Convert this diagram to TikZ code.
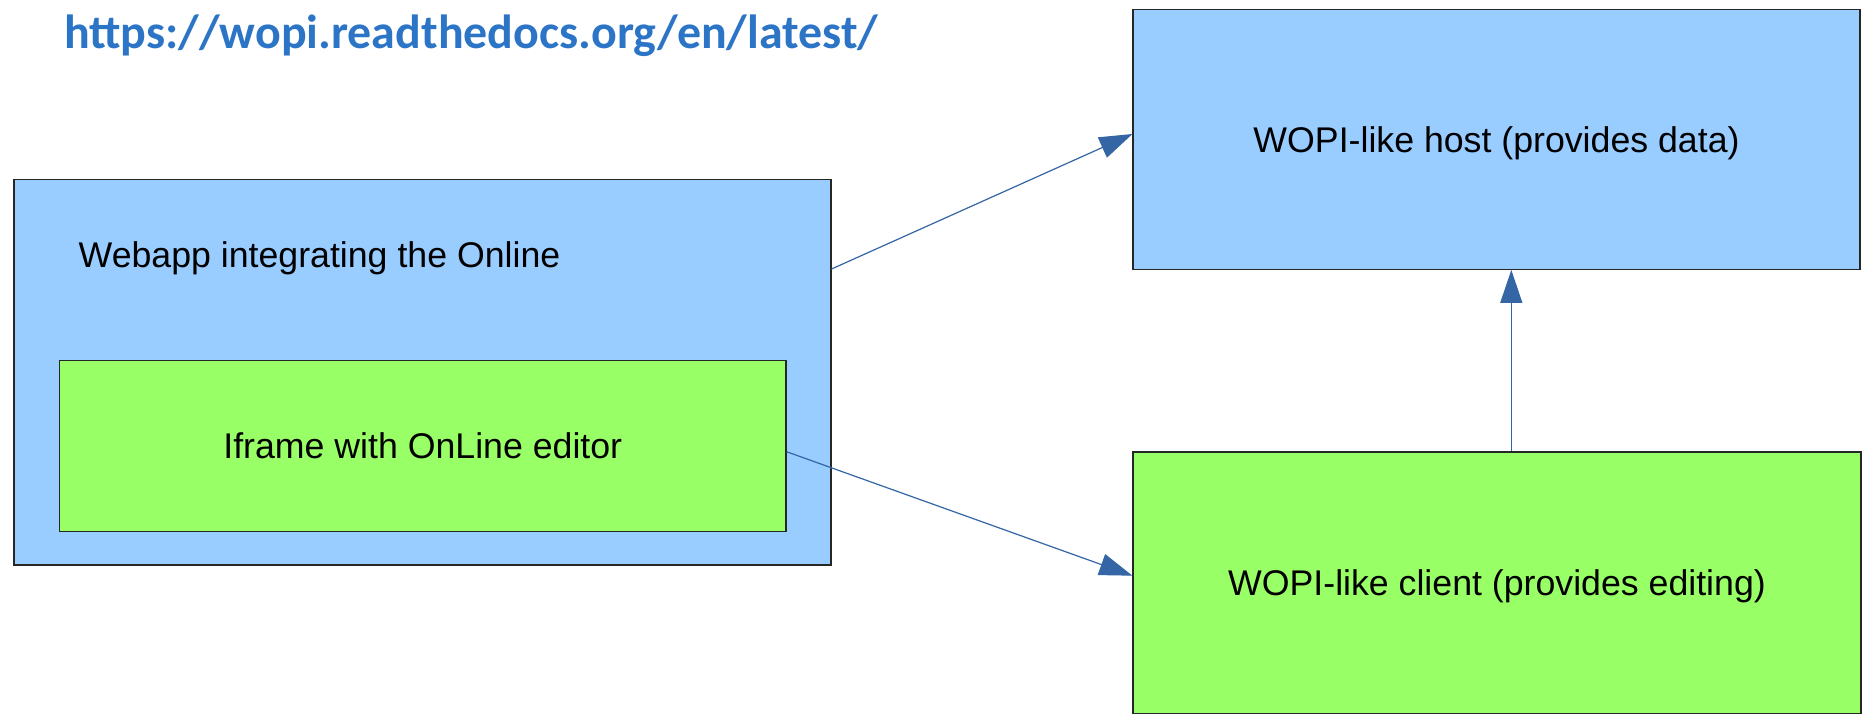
\documentclass[tikz,border=0pt]{standalone}
\usepackage{fontspec}
\setmainfont{Liberation Sans}
\newfontfamily\latofont{Carlito}
\usetikzlibrary{arrows.meta}
\definecolor{boxblue}{HTML}{99CCFF}
\definecolor{boxgreen}{HTML}{99FF66}
\definecolor{arrowblue}{HTML}{3465A4}
\definecolor{urlblue}{HTML}{2C75C6}
\tikzset{
  box/.style={draw=black!85, line width=1.1pt, rectangle, inner sep=0pt,
    font=\fontsize{35.7}{42}\selectfont, text=black,
    text height=25.6pt, text depth=0pt},
  bluebox/.style={box, fill=boxblue},
  greenbox/.style={box, fill=boxgreen},
  conn/.style={draw=arrowblue, line width=1.2pt,
    -{Triangle[length=33pt,width=22pt]}, color=arrowblue},
  plainlabel/.style={inner sep=0pt, font=\fontsize{35.7}{42}\selectfont, text=black},
}
\begin{document}
\begin{tikzpicture}[x=1pt,y=-1pt]
\useasboundingbox (0,0) rectangle (1863,715);
\fill[white] (0,0) rectangle (1863,715);
% URL title
\node[inner sep=0pt, anchor=base west, text=urlblue] (url) at (64,48)
  {\resizebox{814pt}{!}{\latofont\bfseries https://wopi.readthedocs.org/en/latest/}};
% Boxes
\node[bluebox, minimum width=817pt, minimum height=385.5pt] (webapp) at (422.5,372.25) {};
\node[plainlabel, anchor=base west] (webapptext) at (78.5,267.3) {Webapp integrating the Online};
\node[greenbox, minimum width=726.5pt, minimum height=170.5pt] (iframe) at (422.75,446) {Iframe with OnLine editor};
\node[bluebox, minimum width=727pt, minimum height=260.3pt] (host) at (1496.5,139.2) {WOPI-like host (provides data)};
\node[greenbox, minimum width=728pt, minimum height=261.4pt] (client) at (1497,582.7) {WOPI-like client (provides editing)};
% Connectors
\draw[conn] ([yshift=103.25pt]webapp.east) -- ([yshift=5.2pt]host.west);
\draw[conn] ([yshift=-5.7pt]iframe.east) -- ([yshift=7pt]client.west);
\draw[conn] ([xshift=14.3pt]client.north) -- ([xshift=14.8pt]host.south);
\end{tikzpicture}
\end{document}
